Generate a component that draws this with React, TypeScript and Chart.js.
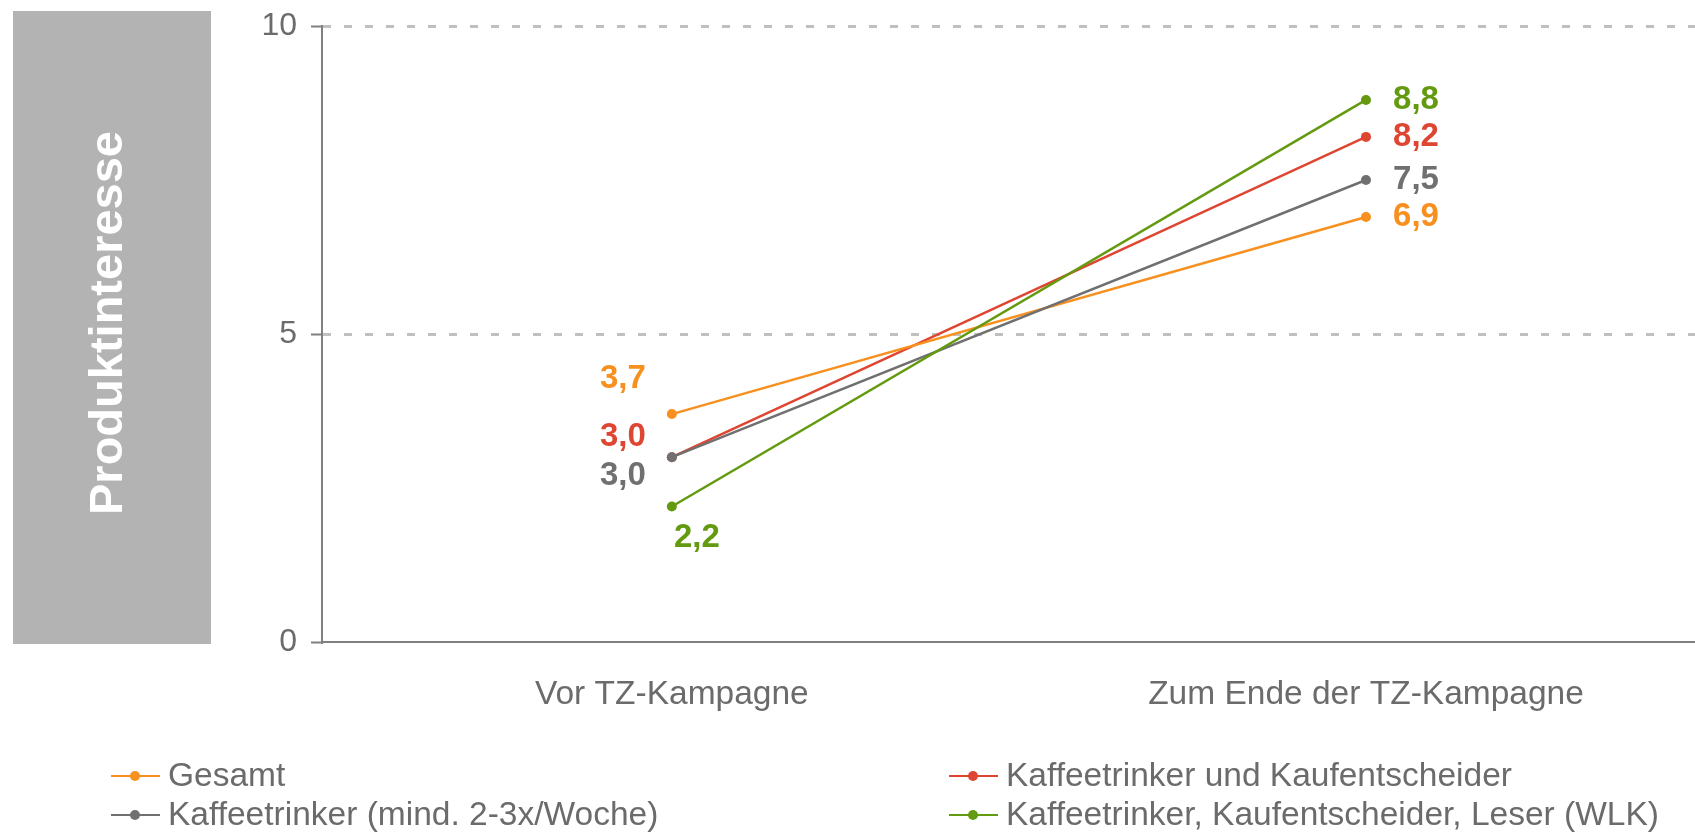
import React, { useEffect, useRef } from 'react';
import { Chart, registerables } from 'chart.js';

Chart.register(...registerables);

const categories = ['Vor TZ-Kampagne', 'Zum Ende der TZ-Kampagne'];
const seriesNames = [
  'Gesamt',
  'Kaffeetrinker und Kaufentscheider',
  'Kaffeetrinker (mind. 2-3x/Woche)',
  'Kaffeetrinker, Kaufentscheider, Leser (WLK)',
];
const gesamt = [3.7, 6.9];
const kaufentscheider = [3.0, 8.2];
const kaffeetrinker = [3.0, 7.5];
const wlk = [2.2, 8.8];
const yTicks = [0, 5, 10];
const yTitle = 'Produktinteresse';

const seriesValues = [gesamt, kaufentscheider, kaffeetrinker, wlk];
const colors = ['#F7901E', '#DE4632', '#707070', '#639A0F'];
// draw order (lower = on top)
const drawOrder = [3, 4, 2, 1];
// label offsets (px) relative to each point
const labelOffsets = [
  [[-49, -35], [50, 0]],
  [[-49, -20], [50, 0]],
  [[-49, 19], [50, 0]],
  [[25, 31], [50, 0]],
];
const legendCols = [111, 949];
const legendRows = [776, 815];
const legendSlots = [[0, 0], [1, 0], [0, 1], [1, 1]];

const FONT = '"Liberation Sans", Arial, sans-serif';
const TEXT = '#6B6B6B';
const AXIS = '#808080';

const fmt = (v: number) => v.toFixed(1).replace('.', ',');

const decorPlugin = {
  id: 'decor',
  beforeDraw(chart: any) {
    const ctx = chart.ctx;
    ctx.save();
    ctx.fillStyle = '#B3B3B3';
    ctx.fillRect(13, 11, 198, 633);
    ctx.translate(122, 323);
    ctx.rotate(-Math.PI / 2);
    ctx.fillStyle = '#FFFFFF';
    ctx.font = `bold 47px ${FONT}`;
    ctx.textAlign = 'center';
    ctx.textBaseline = 'alphabetic';
    ctx.fillText(yTitle, 0, 0);
    ctx.restore();
  },
  afterDraw(chart: any) {
    const ctx = chart.ctx;
    ctx.save();
    // data labels
    ctx.font = `bold 33px ${FONT}`;
    ctx.textAlign = 'center';
    ctx.textBaseline = 'middle';
    seriesValues.forEach((vals, i) => {
      const meta = chart.getDatasetMeta(i);
      ctx.fillStyle = colors[i];
      vals.forEach((v, j) => {
        const pt = meta.data[j];
        const [dx, dy] = labelOffsets[i][j];
        ctx.fillText(fmt(v), pt.x + dx, pt.y + dy);
      });
    });
    // legend
    ctx.font = `33.5px ${FONT}`;
    ctx.textAlign = 'left';
    seriesNames.forEach((name, i) => {
      const x = legendCols[legendSlots[i][0]];
      const y = legendRows[legendSlots[i][1]];
      ctx.strokeStyle = colors[i];
      ctx.lineWidth = 2;
      ctx.beginPath();
      ctx.moveTo(x, y);
      ctx.lineTo(x + 49, y);
      ctx.stroke();
      ctx.fillStyle = colors[i];
      ctx.beginPath();
      ctx.arc(x + 24, y, 5, 0, Math.PI * 2);
      ctx.fill();
      ctx.fillStyle = TEXT;
      ctx.fillText(name, x + 57, y + 1);
    });
    ctx.restore();
  },
};

export default function App() {
  const ref = useRef<HTMLCanvasElement | null>(null);
  useEffect(() => {
    if (!ref.current) return;
    const chart = new Chart(ref.current, {
      type: 'line',
      data: {
        datasets: seriesNames.map((name, i) => ({
          label: name,
          data: seriesValues[i].map((v, j) => ({ x: j, y: v })),
          borderColor: colors[i],
          backgroundColor: colors[i],
          pointBackgroundColor: colors[i],
          pointBorderColor: colors[i],
          pointRadius: 5,
          pointBorderWidth: 0,
          borderWidth: 2.5,
          order: drawOrder[i],
        })),
      },
      options: {
        animation: false,
        responsive: false,
        layout: { autoPadding: false, padding: { top: 26, right: 0, left: 0, bottom: 0 } },
        plugins: { legend: { display: false }, tooltip: { enabled: false } },
        scales: {
          x: {
            type: 'linear',
            min: -0.504,
            max: 1.474,
            afterBuildTicks: (s: any) => {
              s.ticks = categories.map((_, i) => ({ value: i }));
            },
            afterFit: (s: any) => {
              s.height = 190;
              s.paddingLeft = 0;
              s.paddingRight = 0;
            },
            ticks: {
              callback: (v: any) => categories[v] ?? '',
              font: { family: FONT, size: 33.5 },
              color: TEXT,
              padding: 33,
              maxRotation: 0,
            },
            grid: { display: false, drawTicks: false },
            border: { display: true, color: AXIS, width: 2 },
          },
          y: {
            min: 0,
            max: 10,
            afterBuildTicks: (s: any) => {
              s.ticks = yTicks.map((v) => ({ value: v }));
            },
            afterFit: (s: any) => {
              s.width = 322;
              s.paddingTop = 0;
              s.paddingBottom = 0;
            },
            ticks: {
              font: { family: FONT, size: 32 },
              color: TEXT,
              padding: 14,
            },
            grid: {
              color: (c: any) => (c.tick && c.tick.value === 0 ? 'rgba(0,0,0,0)' : '#C0C0C0'),
              lineWidth: 3,
              tickColor: AXIS,
              tickLength: 11,
              tickWidth: 2,
            },
            border: { display: true, color: AXIS, width: 2, dash: [8, 13] },
          },
        },
      },
      plugins: [decorPlugin],
    } as any);
    return () => chart.destroy();
  }, []);
  return (
    <div style={{ position: 'fixed', left: 0, top: 0, width: 1695, height: 832, background: '#fff' }}>
      <canvas ref={ref} width={1695} height={832} style={{ display: 'block' }} />
    </div>
  );
}
